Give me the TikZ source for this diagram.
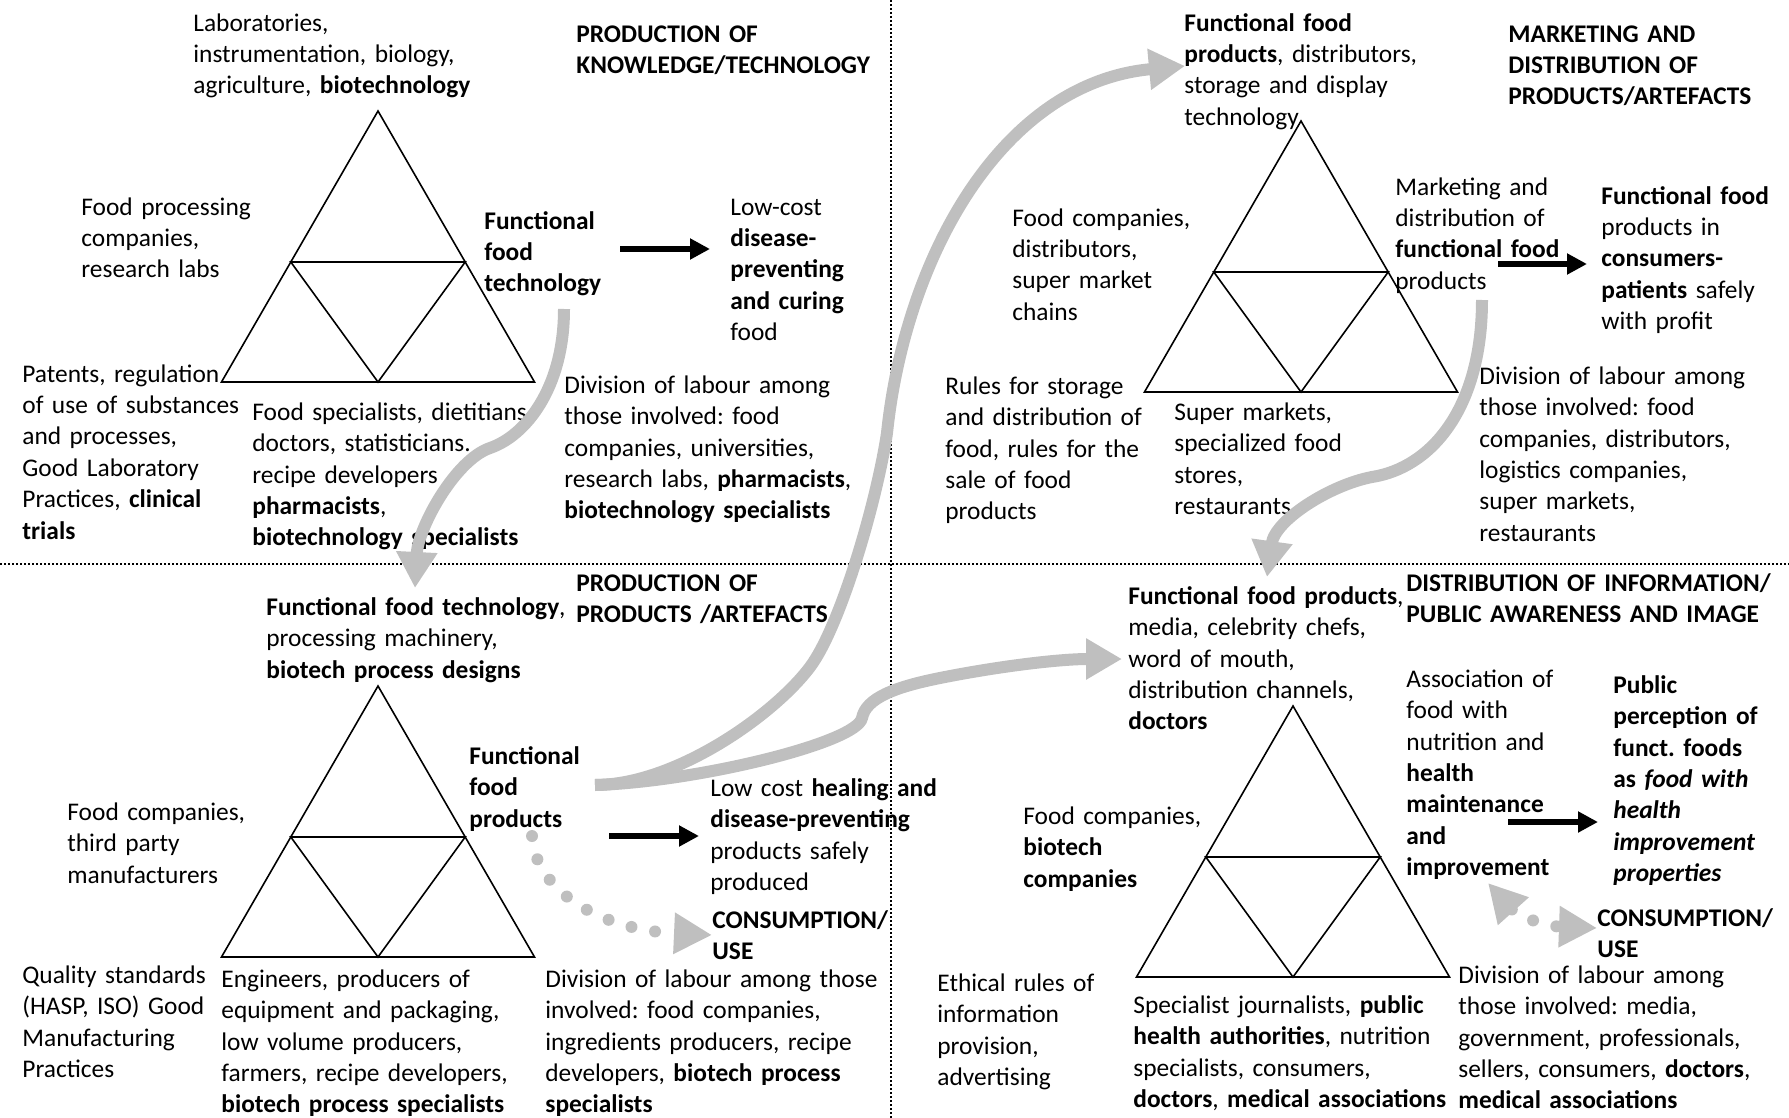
\documentclass[tikz,border=0pt]{standalone}
\usepackage{fontspec}
\setmainfont{Carlito}[WordSpace=0.7]
\frenchspacing
\usetikzlibrary{arrows.meta}
\definecolor{flowgray}{RGB}{191,191,191}
\tikzset{
  txt/.style={anchor=base west, align=left, inner sep=0pt, text width=200pt, yshift=-1.1pt, font=\fontsize{12.7}{15.7}\selectfont},
  hdr/.style={txt, font=\fontsize{12.7}{15.7}\selectfont\bfseries},
  flow/.style={draw=flowgray, line width=6pt, -{Triangle[length=18pt,width=19.5pt]}},
  dotflow/.style={draw=flowgray, line width=6pt, line cap=round, dash pattern=on 0pt off 12pt},
  outarrow/.style={line width=3.4pt, -{Triangle[length=10pt,width=10pt]}},
  divider/.style={line width=1pt, dash pattern=on 1pt off 1pt}
}

\begin{document}
\begin{tikzpicture}[x=0.5pt,y=-0.5pt]
\useasboundingbox (0,0) rectangle (1789,1118);

\draw node[txt] (labs) at (193,29) {Laboratories,\\instrumentation, biology,\\agriculture, \textbf{biotechnology}};
\draw node[hdr] (knowtitle) at (576,40) {PRODUCTION OF\\KNOWLEDGE/TECHNOLOGY};
\draw node[txt] (foodproc) at (81,213) {Food processing\\companies,\\research labs};
\draw node[hdr] (fftech) at (484,227) {Functional\\food\\technology};
\draw node[txt] (lowcost) at (730,213) {Low-cost\\\textbf{disease-}\\\textbf{preventing}\\\textbf{and curing}\\food};
\draw node[txt] (patents) at (22,380) {Patents, regulation\\of use of substances\\and processes,\\Good Laboratory\\Practices, \textbf{clinical}\\\textbf{trials}};
\draw node[txt] (specone) at (252,418) {Food specialists, dietitians\\doctors, statisticians.\\recipe developers\\\textbf{pharmacists},\\\textbf{biotechnology specialists}};
\draw node[txt] (divone) at (564,391) {Division of labour among\\those involved: food\\companies, universities,\\research labs, \textbf{pharmacists},\\\textbf{biotechnology specialists}};

\draw node[txt] (ffprodtop) at (1184,29) {\textbf{Functional food}\\\textbf{products}, distributors,\\storage and display\\technology};
\draw node[hdr] (markettitle) at (1508,40) {MARKETING AND\\DISTRIBUTION OF\\PRODUCTS/ARTEFACTS};
\draw node[txt] (foodcomp) at (1012,224) {Food companies,\\distributors,\\super market\\chains};
\draw node[txt] (marketing) at (1395,193) {Marketing and\\distribution of\\\textbf{functional food}\\products};
\draw node[txt] (consumers) at (1601,202) {\textbf{Functional food}\\products in\\\textbf{consumers-}\\\textbf{patients} safely\\with profit};
\draw node[txt] (rules) at (945,392) {Rules for storage\\and distribution of\\food, rules for the\\sale of food\\products};
\draw node[txt] (supermarkets) at (1174,418) {Super markets,\\specialized food\\stores,\\restaurants};
\draw node[txt] (divtwo) at (1479,382) {Division of labour among\\those involved: food\\companies, distributors,\\logistics companies,\\super markets,\\restaurants};

\draw node[hdr] (prodtitle) at (576,589) {PRODUCTION OF\\PRODUCTS /ARTEFACTS};
\draw node[txt] (fftechtop) at (266,613) {\textbf{Functional food technology},\\processing machinery,\\\textbf{biotech process designs}};
\draw node[txt] (thirdparty) at (67,818) {Food companies,\\third party\\manufacturers};
\draw node[hdr] (ffprod) at (469,762) {Functional\\food\\products};
\draw node[txt] (healing) at (710,794) {Low cost \textbf{healing and}\\\textbf{disease-preventing}\\products safely\\produced};
\draw node[hdr] (useone) at (712,926) {CONSUMPTION/\\USE};
\draw node[txt] (quality) at (22,981) {Quality standards\\(HASP, ISO) Good\\Manufacturing\\Practices};
\draw node[txt] (engineers) at (221,985) {Engineers, producers of\\equipment and packaging,\\low volume producers,\\farmers, recipe developers,\\\textbf{biotech process specialists}};
\draw node[txt] (divthree) at (545,985) {Division of labour among those\\involved: food companies,\\ingredients producers, recipe\\developers, \textbf{biotech process}\\\textbf{specialists}};

\draw node[txt] (ffmedia) at (1128,602) {\textbf{Functional food products},\\media, celebrity chefs,\\word of mouth,\\distribution channels,\\\textbf{doctors}};
\draw node[hdr] (infotitle) at (1406,589) {DISTRIBUTION OF INFORMATION/\\PUBLIC AWARENESS AND IMAGE};
\draw node[txt] (association) at (1406,685) {Association of\\food with\\nutrition and\\\textbf{health}\\\textbf{maintenance}\\\textbf{and}\\\textbf{improvement}};
\draw node[hdr] (perception) at (1613,691) {Public\\perception of\\funct. foods\\as \textit{food with}\\\textit{health}\\\textit{improvement}\\\textit{properties}};
\draw node[txt] (biotechcomp) at (1023,822) {Food companies,\\\textbf{biotech}\\\textbf{companies}};
\draw node[hdr] (usetwo) at (1597,924) {CONSUMPTION/\\USE};
\draw node[txt] (ethical) at (937,989) {Ethical rules of\\information\\provision,\\advertising};
\draw node[txt] (journalists) at (1133,1011) {Specialist journalists, \textbf{public}\\\textbf{health authorities}, nutrition\\specialists, consumers,\\\textbf{doctors}, \textbf{medical associations}};
\draw node[txt] (divfour) at (1458,981) {Division of labour among\\those involved: media,\\government, professionals,\\sellers, consumers, \textbf{doctors},\\\textbf{medical associations}};

\foreach \ax/\ay in {378/111, 1301/121, 378/686, 1293/706}
	\draw[line width=0.8pt] (\ax,\ay) -- (\ax-156.5,\ay+271) -- (\ax+156.5,\ay+271) -- cycle
		(\ax-87.2,\ay+151) -- (\ax+87.2,\ay+151) -- (\ax,\ay+271) -- cycle;

\draw[divider] (891,0) -- (891,1118);
\draw[divider] (0,564) -- (1789,564);

\coordinate (techdown) at (564,309);
\coordinate (techtop) at (415,588);
\coordinate (mktdown) at (1482,300);
\coordinate (mediatop) at (1267,577);
\coordinate (prodout) at (595,785);
\coordinate (distin) at (1185,66);
\coordinate (mediain) at (1122,659);
\coordinate (dotstart) at (532,836);
\coordinate (usein) at (712,935);
\coordinate (improvein) at (1488,883);
\coordinate (usetwoin) at (1597,928);

\draw[flow] (techdown) .. controls (564,389) and (525,436) .. (490,448) .. controls (455,460) and (418,528) .. (techtop);
\draw[flow] (mktdown) .. controls (1482,410) and (1430,468) .. (1372,477) .. controls (1330,485) and (1275,520) .. (mediatop);
\draw[flow] (prodout) .. controls (675,785) and (774,715) .. (810,667) .. controls (840,627) and (876.5,503) .. (887,433) .. controls (905,260) and (1000,83) .. (distin);
\draw[flow] (prodout) .. controls (695,782) and (857,743) .. (862,718) .. controls (866,698) and (895,687) .. (940,678) .. controls (1000,666) and (1060,659) .. (mediain);
\draw[dotflow, -{Triangle[length=19pt,width=19.5pt]}] (dotstart) .. controls (535,890) and (600,930) .. (usein);
\draw[dotflow, {Triangle[length=19pt,width=19.5pt]}-{Triangle[length=19pt,width=19.5pt]}] (improvein) .. controls (1515,913) and (1540,926) .. (usetwoin);

\coordinate (a1) at (620,249);
\coordinate (b1) at (710,249);
\coordinate (a2) at (1498,264);
\coordinate (b2) at (1587,264);
\coordinate (a3) at (609,836);
\coordinate (b3) at (699,836);
\coordinate (a4) at (1508,822);
\coordinate (b4) at (1598,822);
\foreach \from/\to in {a1/b1, a2/b2, a3/b3, a4/b4}
	\draw[outarrow] (\from) -- (\to);

\end{tikzpicture}
\end{document}
